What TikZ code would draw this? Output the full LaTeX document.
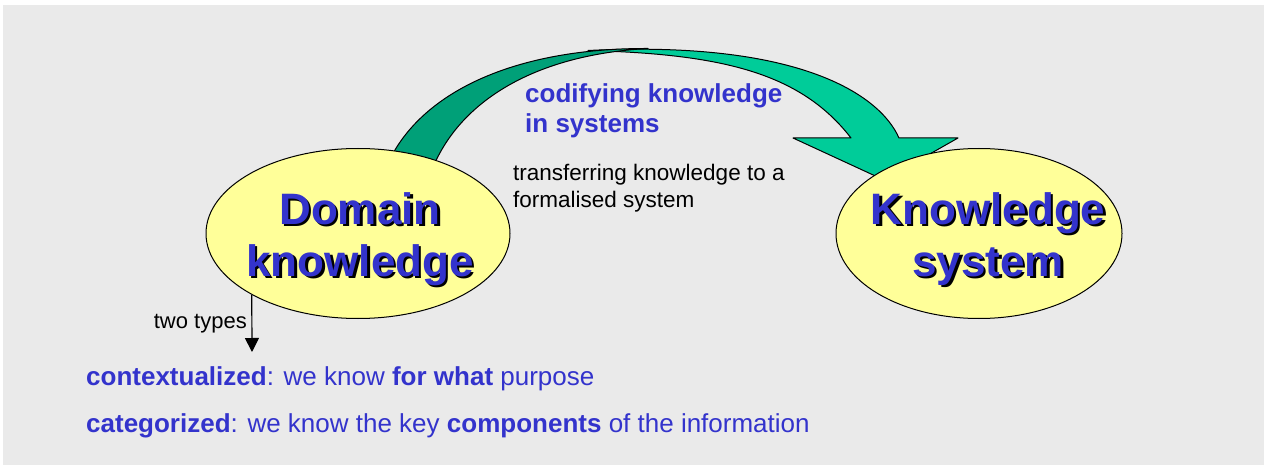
\documentclass[tikz,border=0pt]{standalone}
\usepackage{fontspec}
\setmainfont{Liberation Sans}
\usetikzlibrary{shapes.geometric,arrows.meta,backgrounds}
\definecolor{bggray}{RGB}{234,234,234}
\definecolor{kblue}{RGB}{51,51,204}
\definecolor{dkgreen}{RGB}{0,160,120}
\definecolor{ltgreen}{RGB}{0,204,153}
\definecolor{ellyellow}{RGB}{255,255,153}
\newcommand{\shtxt}[1]{\rlap{\kern2.5pt\raisebox{-2.5pt}{\textcolor{black}{#1}}}\textcolor{kblue}{#1}}
\tikzset{
  ell/.style={ellipse, draw=black, line width=1pt, fill=ellyellow, inner sep=0pt},
  bigtext/.style={font=\fontsize{44}{52}\selectfont\bfseries},
  bluebold/.style={font=\fontsize{26}{30}\selectfont\bfseries, text=kblue, inner sep=0pt},
  plaintext/.style={font=\fontsize{22.5}{27}\selectfont, text=black, inner sep=0pt},
  bottomline/.style={font=\fontsize{26}{30}\selectfont, text=kblue, inner sep=0pt, anchor=base west},
  bandshape/.style={draw=black, line width=1pt, line join=round},
  typesarrow/.style={draw=black, line width=1.2pt, -{Triangle[width=14pt,length=14pt]}}
}
\begin{document}
\begin{tikzpicture}[x=1pt,y=-1pt]
\useasboundingbox (0,0) rectangle (1264,465);

\node[ell, minimum width=304, minimum height=170, bigtext] (dk) at (358,233.5)
  {\makebox[0pt]{\kern4pt\smash{\raisebox{9pt}{\begin{tabular}[t]{@{}c@{}}\shtxt{Domain}\\\shtxt{knowledge}\end{tabular}}}}};
\node[ell, minimum width=286, minimum height=170, bigtext] (ks) at (979,233.5)
  {\makebox[0pt]{\kern18pt\smash{\raisebox{9pt}{\begin{tabular}[t]{@{}c@{}}\shtxt{Knowledge}\\\shtxt{system}\end{tabular}}}}};

\begin{pgfonlayer}{background}
  \fill[bggray] (3,5) rectangle (1264,465);
  % light part of the curved arrow
  \draw[bandshape, fill=ltgreen] (588,50.5) .. controls (800,40) and (880,95) .. (899,138)
     -- (958,138) -- (884,180) -- (793,138) -- (851,138)
     .. controls (800,72) and (720,54) .. (588,50.5) -- cycle;
  % dark part of the curved arrow
  \draw[bandshape, fill=dkgreen] (385,170) .. controls (415,95) and (510,48) .. (648,48.5)
     .. controls (530,55) and (455,105) .. (430,175) -- cycle;
\end{pgfonlayer}

\node[bluebold, anchor=base west] (cod) at (525,103)
  {\begin{tabular}[t]{@{}l@{}}codifying knowledge\\in systems\end{tabular}};
\node[plaintext, anchor=base west] (tr) at (513,181)
  {\begin{tabular}[t]{@{}l@{}}transferring knowledge to a\\formalised system\end{tabular}};

\coordinate (tt) at (252,352);
\draw[typesarrow] (dk.210) -- (tt);
\node[font=\fontsize{22}{25}\selectfont, inner sep=0pt, anchor=base east] (two) at (247,328) {two types};

\node[bottomline] (l1) at (86,385) {\textbf{contextualized}: we know \textbf{for what} purpose};
\node[bottomline] (l2) at (86,432) {\textbf{categorized}: we know the key \textbf{components} of the information};
\end{tikzpicture}
\end{document}
